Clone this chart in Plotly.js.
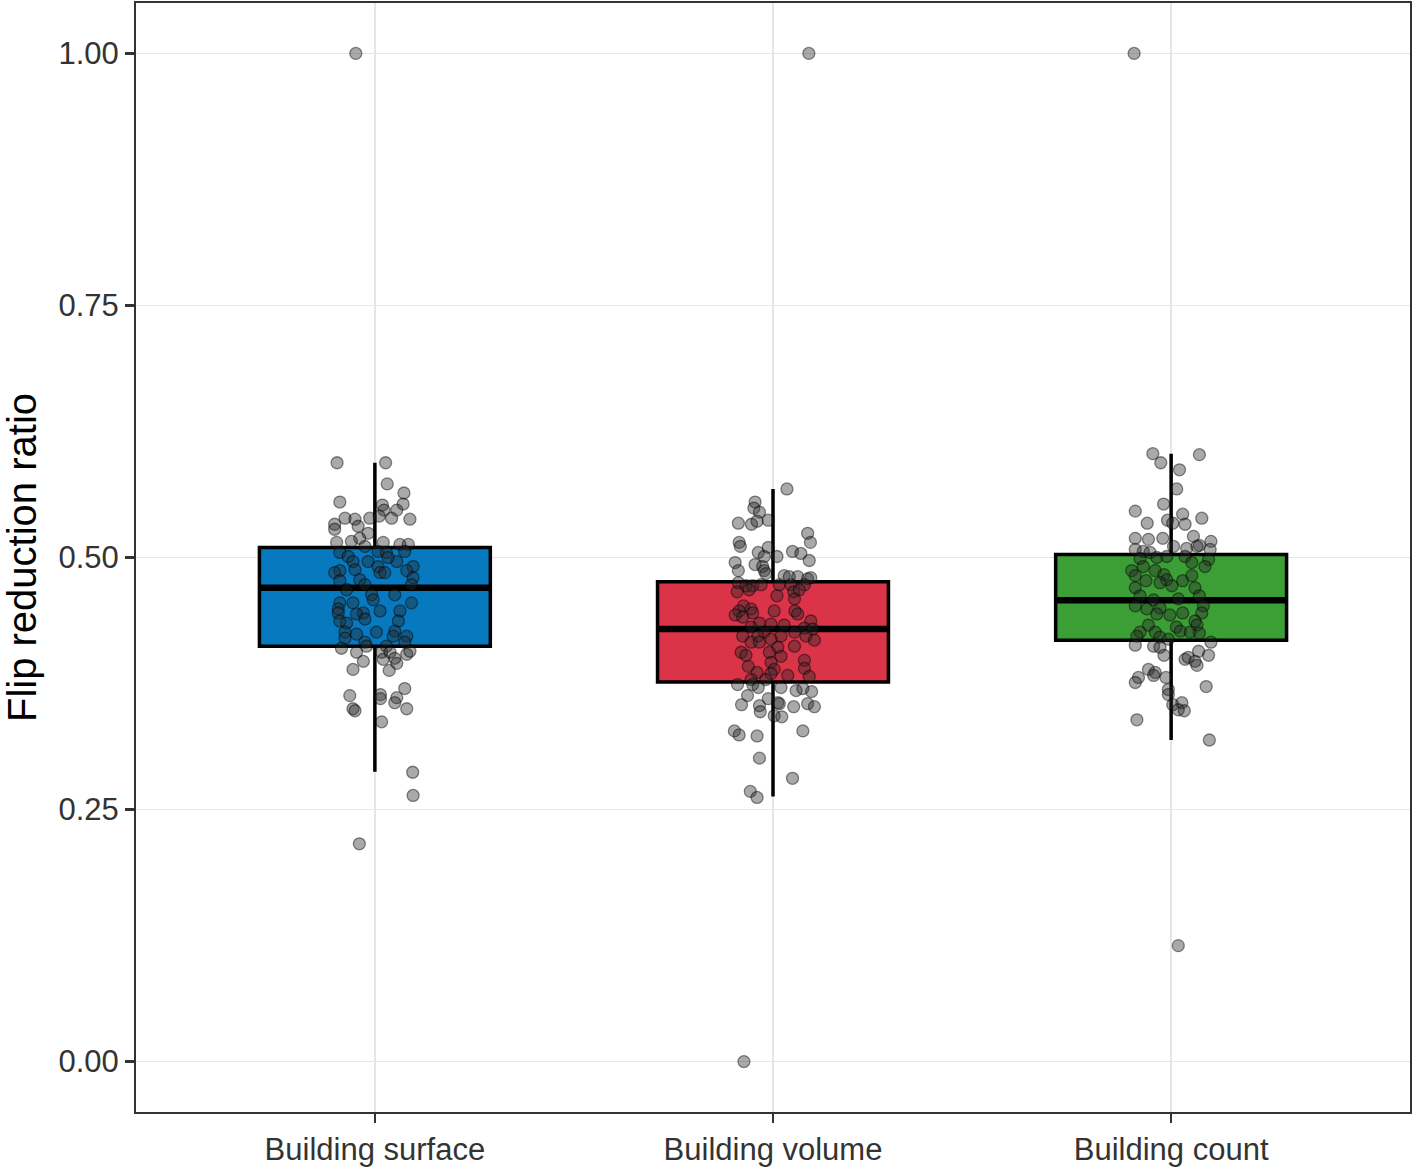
<!DOCTYPE html>
<html>
<head>
<meta charset="utf-8">
<script src="https://cdn.plot.ly/plotly-3.0.1.min.js"></script>
<style>
  html, body { margin: 0; padding: 0; background: #fff; }
  #chart { width: 1417px; height: 1172px; }
</style>
</head>
<body>
<div id="chart"></div>
<script>
// categories and box statistics
var categories = ['Building surface', 'Building volume', 'Building count'];
var boxColors = ['#0679bf', '#db3348', '#3b9f35'];
var q1 = [0.412, 0.3765, 0.418];
var median = [0.470, 0.429, 0.4575];
var q3 = [0.510, 0.476, 0.503];
var lowerWhisker = [0.2875, 0.263, 0.319];
var upperWhisker = [0.594, 0.568, 0.603];

// jittered points: ratio values and horizontal jitter (category units)
var surfaceY = [
  0.594, 0.594, 0.573, 0.564, 0.555, 0.552, 0.553, 0.547, 0.547, 0.539, 0.538, 0.539, 0.538,
  0.539, 0.541, 0.533, 0.528, 0.531, 0.524, 0.519, 0.515, 0.516, 0.515, 0.513, 0.513, 0.511,
  0.505, 0.501, 0.506, 0.505, 0.506, 0.496, 0.496, 0.496, 0.500, 0.487, 0.491, 0.491, 0.485,
  0.488, 0.485, 0.485, 0.487, 0.480, 0.478, 0.477, 0.473, 0.473, 0.468, 0.463, 0.463, 0.458,
  0.455, 0.455, 0.455, 0.449, 0.445, 0.445, 0.447, 0.447, 0.444, 0.439, 0.437, 0.435, 0.437,
  0.426, 0.427, 0.426, 0.424, 0.422, 0.422, 0.420, 0.416, 0.416, 0.412, 0.412,
  0.410, 0.406, 0.406, 0.406, 0.404, 0.407, 0.399, 0.400, 0.397, 0.395, 0.389, 0.388, 0.370,
  0.363, 0.364, 0.360, 0.361, 0.356, 0.350, 0.348, 0.350, 0.337, 0.287, 0.264, 0.216, 1.000
];
var surfaceJit = [
  -0.095, 0.027, 0.031, 0.073, -0.088, 0.019, 0.071, 0.023, 0.055, 0.042, 0.088, -0.075, -0.050,
  -0.013, 0.011, -0.101, -0.101, -0.042, -0.017, -0.038, -0.096, -0.059, 0.021, 0.063, 0.084, -0.025,
  -0.088, -0.067, 0.008, 0.029, 0.075, -0.055, -0.017, 0.055, 0.033, -0.088, 0.096, 0.008, -0.101,
  -0.050, 0.013, 0.025, 0.080, 0.096, -0.038, -0.088, -0.025, 0.092, -0.071, -0.008, 0.050, -0.004,
  -0.055, 0.092, -0.088, -0.092, -0.092, -0.029, 0.013, 0.063, -0.046, -0.025, -0.088, -0.071, 0.059,
  0.004, 0.050, -0.075, -0.046, 0.080, 0.046, -0.075, -0.025, 0.075, -0.021, 0.029,
  -0.084, -0.046, 0.017, 0.038, 0.080, 0.088, 0.021, 0.050, -0.029, 0.055, -0.055, 0.036, 0.075,
  -0.063, 0.014, 0.014, 0.055, 0.050, -0.055, -0.050, 0.080, 0.017, 0.095, 0.096, -0.039, -0.048
];

var volumeY = [
  0.568, 0.555, 0.549, 0.545, 0.534, 0.533, 0.536, 0.537, 0.524, 0.515, 0.515, 0.511, 0.510,
  0.505, 0.506, 0.504, 0.501, 0.501, 0.497, 0.495, 0.493, 0.491, 0.487, 0.487, 0.484, 0.482,
  0.481, 0.481, 0.479, 0.480,
  0.475, 0.472, 0.472, 0.473, 0.473, 0.473, 0.473, 0.466, 0.468, 0.462, 0.466, 0.468, 0.459,
  0.452, 0.449, 0.447, 0.443, 0.445, 0.447, 0.447, 0.444, 0.441, 0.437, 0.435, 0.434, 0.433,
  0.431, 0.430, 0.429, 0.426, 0.426, 0.422, 0.422, 0.422, 0.422, 0.418, 0.416, 0.416, 0.419,
  0.412, 0.411, 0.406, 0.403, 0.406, 0.402, 0.396, 0.398, 0.392, 0.389, 0.390, 0.386, 0.385,
  0.383, 0.382, 0.379, 0.379,
  0.374, 0.374, 0.371, 0.371, 0.368, 0.370, 0.367, 0.363, 0.360, 0.356, 0.354, 0.353, 0.352,
  0.355, 0.352, 0.355, 0.347, 0.343, 0.342, 0.328, 0.324, 0.323, 0.328, 0.301, 0.281, 0.268,
  0.262, 1.000, 0.000
];
var volumeJit = [
  0.035, -0.045, -0.048, -0.034, -0.087, -0.054, -0.040, -0.012, 0.087, 0.094, -0.085, -0.082, -0.012,
  -0.037, 0.049, 0.070, -0.022, 0.010, 0.091, -0.095, -0.045, -0.026, -0.087, -0.022, -0.018, 0.028,
  0.041, 0.062, 0.087, 0.095,
  -0.087, -0.068, -0.051, -0.030, 0.016, 0.045, 0.079, -0.090, -0.060, 0.010, 0.052, 0.066, 0.054,
  -0.074, -0.055, -0.085, -0.095, -0.051, 0.003, 0.055, 0.062, -0.076, 0.095, -0.034, -0.005, 0.028,
  -0.055, 0.079, 0.100, -0.022, 0.054, -0.076, -0.038, 0.020, 0.083, 0.104, -0.055, -0.034, -0.005,
  0.054, 0.012, -0.080, -0.068, -0.009, 0.020, -0.005, 0.079, -0.062, 0.003, 0.079, -0.040, -0.005,
  0.037, 0.091, -0.055, -0.018,
  -0.089, -0.051, -0.037, 0.020, 0.058, 0.075, 0.097, -0.064, -0.012, 0.012, -0.079, -0.034, 0.052,
  0.087, 0.104, 0.016, -0.032, 0.003, 0.022, -0.097, -0.085, -0.040, 0.075, -0.034, 0.049, -0.057,
  -0.040, 0.090, -0.073
];

var countY = [
  0.603, 0.602, 0.594, 0.587, 0.568, 0.553, 0.546, 0.543, 0.539, 0.534, 0.537, 0.534, 0.533,
  0.519, 0.518, 0.519, 0.521, 0.516, 0.511, 0.512, 0.508, 0.506, 0.505, 0.509, 0.508, 0.511,
  0.499, 0.500, 0.501, 0.501, 0.495, 0.498, 0.491, 0.491, 0.487, 0.487, 0.483, 0.482, 0.477,
  0.478, 0.477, 0.482, 0.475, 0.470, 0.472, 0.470, 0.462, 0.458, 0.459, 0.462, 0.452, 0.449,
  0.450, 0.445, 0.452, 0.445, 0.443, 0.444, 0.437, 0.433, 0.431, 0.433, 0.426, 0.426, 0.427,
  0.426, 0.425, 0.422, 0.421, 0.419,
  0.413, 0.412, 0.411, 0.416, 0.407, 0.403, 0.403, 0.399, 0.401, 0.397, 0.393, 0.389, 0.386,
  0.383, 0.381, 0.376, 0.381, 0.372, 0.369, 0.364, 0.356, 0.354, 0.349, 0.348, 0.339, 0.319,
  1.000, 0.115
];
var countJit = [
  -0.046, 0.071, -0.026, 0.021, 0.014, -0.019, -0.090, 0.029, 0.077, -0.060, -0.009, 0.004, 0.035,
  -0.090, -0.057, -0.021, 0.056, 0.100, 0.006, 0.071, -0.090, -0.070, -0.053, 0.039, 0.098, 0.065,
  -0.078, -0.036, -0.011, 0.035, 0.052, 0.094, 0.085, -0.070, -0.099, -0.040, -0.018, -0.090, -0.063,
  -0.011, 0.029, 0.052, -0.028, -0.090, 0.002, 0.060, -0.078, -0.044, 0.018, 0.071, -0.090, -0.061,
  -0.028, 0.029, 0.081, 0.077, -0.003, -0.036, 0.060, -0.057, 0.013, 0.065, -0.078, -0.040, 0.023,
  0.048, 0.071, -0.086, -0.028, -0.007,
  -0.090, -0.044, -0.028, 0.100, 0.069, 0.094, -0.018, 0.035, 0.043, 0.060, 0.065, -0.057, -0.040,
  -0.044, -0.082, -0.090, -0.013, 0.088, -0.007, -0.007, 0.027, 0.004, 0.018, 0.033, -0.086, 0.096,
  -0.093, 0.018
];

var pointY = [surfaceY, volumeY, countY];
var pointJit = [surfaceJit, volumeJit, countJit];
var boxWidth = 0.58;

var traces = [];
categories.forEach(function (cat, i) {
  traces.push({
    type: 'box',
    x: [i],
    q1: [q1[i]],
    median: [median[i]],
    q3: [q3[i]],
    lowerfence: [lowerWhisker[i]],
    upperfence: [upperWhisker[i]],
    width: boxWidth,
    whiskerwidth: 0,
    fillcolor: boxColors[i],
    line: { color: '#000', width: 3.5 },
    boxpoints: false,
    hoverinfo: 'skip',
    showlegend: false
  });
});

// thicker median bars, like ggplot's fatten
categories.forEach(function (cat, i) {
  traces.push({
    type: 'scatter',
    mode: 'lines',
    x: [i - boxWidth / 2, i + boxWidth / 2],
    y: [median[i], median[i]],
    line: { color: '#000', width: 6.5 },
    hoverinfo: 'skip',
    showlegend: false
  });
});

categories.forEach(function (cat, i) {
  traces.push({
    type: 'scatter',
    mode: 'markers',
    x: pointJit[i].map(function (d) { return i + d; }),
    y: pointY[i],
    marker: {
      size: 12,
      color: 'rgba(40,40,40,0.4)',
      line: { color: 'rgba(0,0,0,0.45)', width: 1.3 }
    },
    hoverinfo: 'y',
    showlegend: false
  });
});

var layout = {
  width: 1417,
  height: 1172,
  margin: { l: 136, r: 7, t: 3, b: 60 },
  paper_bgcolor: '#fff',
  plot_bgcolor: '#fff',
  font: { family: 'Liberation Sans, Arial, sans-serif', color: '#333' },
  showlegend: false,
  xaxis: {
    range: [-0.6, 2.6],
    tickvals: [0, 1, 2],
    ticktext: categories,
    tickfont: { size: 31, color: '#333' },
    ticks: 'outside',
    ticklen: 9,
    tickwidth: 2.5,
    tickcolor: '#333',
    showgrid: true,
    gridcolor: '#e6e6e6',
    gridwidth: 1.5,
    zeroline: false,
    showline: true,
    mirror: true,
    linecolor: '#333',
    linewidth: 2
  },
  yaxis: {
    range: [-0.05, 1.05],
    tickvals: [0, 0.25, 0.5, 0.75, 1],
    ticktext: ['0.00', '0.25', '0.50', '0.75', '1.00'],
    tickfont: { size: 31, color: '#333' },
    ticks: 'outside',
    ticklen: 9,
    tickwidth: 2.5,
    tickcolor: '#333',
    showgrid: true,
    gridcolor: '#e6e6e6',
    gridwidth: 1.5,
    zeroline: false,
    showline: true,
    mirror: true,
    linecolor: '#333',
    linewidth: 2,
    title: { text: 'Flip reduction ratio', font: { size: 40, color: '#000' }, standoff: 14 }
  }
};

Plotly.newPlot('chart', traces, layout, { displayModeBar: false, staticPlot: true });
</script>
</body>
</html>
